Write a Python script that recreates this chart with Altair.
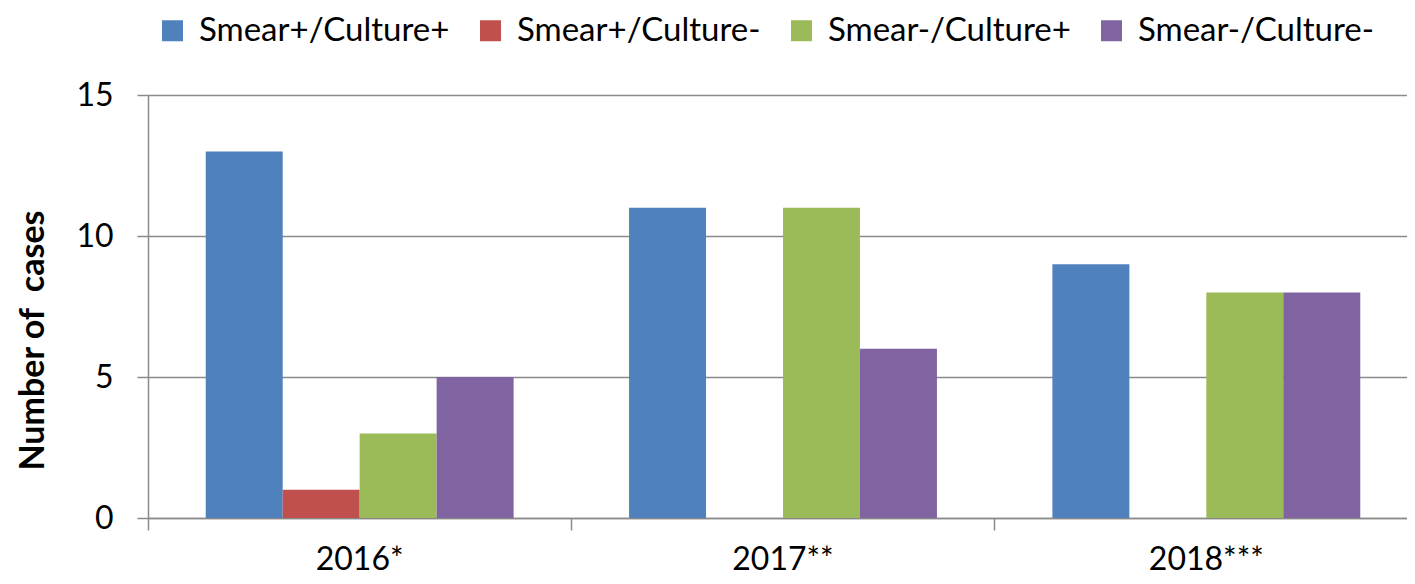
import altair as alt
import pandas as pd

years = ["2016*", "2017**", "2018***"]
series = ["Smear+/Culture+", "Smear+/Culture-", "Smear-/Culture+", "Smear-/Culture-"]
colors = ["#4F81BD", "#C0504D", "#9BBB59", "#8064A2"]
vals_pp = [13, 11, 9]
vals_pm = [1, 0, 0]
vals_mp = [3, 11, 8]
vals_mm = [5, 6, 8]

rows = []
for s, vals in zip(series, [vals_pp, vals_pm, vals_mp, vals_mm]):
    for y, v in zip(years, vals):
        rows.append({"year": y, "series": s, "cases": v})
df = pd.DataFrame(rows)

FONT = "Lato"
GRID = "#8a8a8a"

chart = alt.Chart(df).mark_bar().encode(
    x=alt.X("year:N", sort=years,
            scale=alt.Scale(paddingInner=0, paddingOuter=0, range=[0, 1270]),
            axis=alt.Axis(title=None, labelAngle=0, bandPosition=0,
                          tickSize=12, labelPadding=14, labelFontSize=32, labelFont=FONT,
                          labelColor="black", domainColor=GRID, tickColor=GRID,
                          domainWidth=1.5, tickWidth=1.5, grid=False)),
    xOffset=alt.XOffset("series:N", sort=series,
                        scale=alt.Scale(paddingInner=0, paddingOuter=0.75)),
    y=alt.Y("cases:Q", scale=alt.Scale(domain=[0, 15], nice=False),
            axis=alt.Axis(title="Number of\u00a0 cases", values=[0, 5, 10, 15],
                          tickSize=11, labelPadding=24, labelFontSize=32, labelFont=FONT,
                          labelColor="black", titleFont=FONT, titleFontSize=34,
                          titleFontWeight="bold", titleColor="black", titlePadding=25,
                          titleY=245,
                          domainColor=GRID, tickColor=GRID, gridColor=GRID,
                          domainWidth=1.5, tickWidth=1.5, gridWidth=1.5)),
    color=alt.Color("series:N", sort=series,
                    scale=alt.Scale(domain=series, range=colors),
                    legend=alt.Legend(title=None, orient="none", direction="horizontal",
                                      legendX=8, legendY=-81, symbolType="square",
                                      symbolSize=441, symbolStrokeWidth=0,
                                      labelFont=FONT, labelFontSize=33, labelColor="black",
                                      labelOffset=10, columnPadding=24, padding=0,
                                      labelLimit=400)),
).properties(
    width=1259, height=423,
    autosize=alt.AutoSizeParams(type="none"),
    padding={"left": 140, "top": 87, "right": 0, "bottom": 58},
).configure_view(stroke=None)

chart.save("out.html", embed_options={"renderer": "svg", "actions": False})
